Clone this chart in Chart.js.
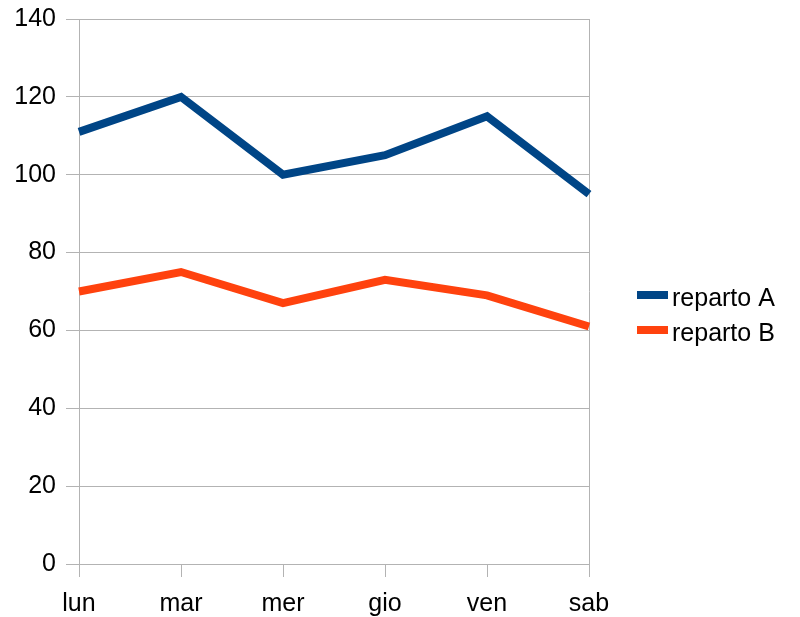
<!DOCTYPE html>
<html>
<head>
<meta charset="utf-8">
<script src="https://cdn.jsdelivr.net/npm/chart.js@4/dist/chart.umd.min.js"></script>
<style>
  html, body { margin: 0; padding: 0; background: #fff; }
  #wrap { width: 800px; height: 617px; }
</style>
</head>
<body>
<div id="wrap"><canvas id="chart" width="800" height="617"></canvas></div>
<script>
// --- Data ---
const days = ['lun', 'mar', 'mer', 'gio', 'ven', 'sab'];
const repartoA = [111, 120, 100, 105, 115, 95];
const repartoB = [70, 75, 67, 73, 69, 61];
const seriesNames = ['reparto A', 'reparto B'];
const yTicks = [0, 20, 40, 60, 80, 100, 120, 140];

const FONT = { family: '"Liberation Sans", Arial, sans-serif', size: 25 };
const GRID = '#b3b3b3';
const LINE_W = 8;

// Simple legend drawn at the right, line swatch + label
const sideLegend = {
  id: 'sideLegend',
  afterDraw(chart) {
    const ctx = chart.ctx;
    ctx.save();
    ctx.font = FONT.size + 'px ' + FONT.family;
    ctx.textBaseline = 'alphabetic';
    ctx.fillStyle = '#000';
    chart.data.datasets.forEach((ds, i) => {
      const y = 295 + i * 35;
      ctx.strokeStyle = ds.borderColor;
      ctx.lineWidth = LINE_W;
      ctx.beginPath();
      ctx.moveTo(637, y);
      ctx.lineTo(668, y);
      ctx.stroke();
      ctx.fillText(ds.label, 672, y + 11);
    });
    ctx.restore();
  }
};

new Chart(document.getElementById('chart'), {
  type: 'line',
  data: {
    labels: days,
    datasets: [
      {
        label: seriesNames[0],
        data: repartoA,
        borderColor: '#004586',
        borderWidth: LINE_W,
        pointRadius: 0,
        tension: 0
      },
      {
        label: seriesNames[1],
        data: repartoB,
        borderColor: '#ff420e',
        borderWidth: LINE_W,
        pointRadius: 0,
        tension: 0
      }
    ]
  },
  options: {
    responsive: false,
    animation: false,
    layout: { padding: { top: 19, right: 211, bottom: 0, left: 0 } },
    plugins: {
      legend: { display: false },
      tooltip: { enabled: false }
    },
    scales: {
      x: {
        offset: false,
        grid: {
          // only the outer verticals show inside the plot
          color: (c) => (c.index === 0 || c.index === days.length - 1) ? GRID : 'rgba(0,0,0,0)',
          tickColor: GRID,
          tickLength: 13
        },
        border: { color: GRID },
        ticks: { font: FONT, color: '#000', padding: 12, maxRotation: 0 },
        afterFit: (s) => { s.height = 53; }
      },
      y: {
        min: 0,
        max: 140,
        afterBuildTicks: (s) => { s.ticks = yTicks.map(v => ({ value: v })); },
        grid: { color: GRID, tickColor: GRID, tickLength: 13 },
        border: { color: GRID },
        ticks: { font: FONT, color: '#000', padding: 10 },
        afterFit: (s) => { s.width = 79; s.paddingTop = 0; s.paddingBottom = 0; }
      }
    }
  },
  plugins: [sideLegend]
});
</script>
</body>
</html>
